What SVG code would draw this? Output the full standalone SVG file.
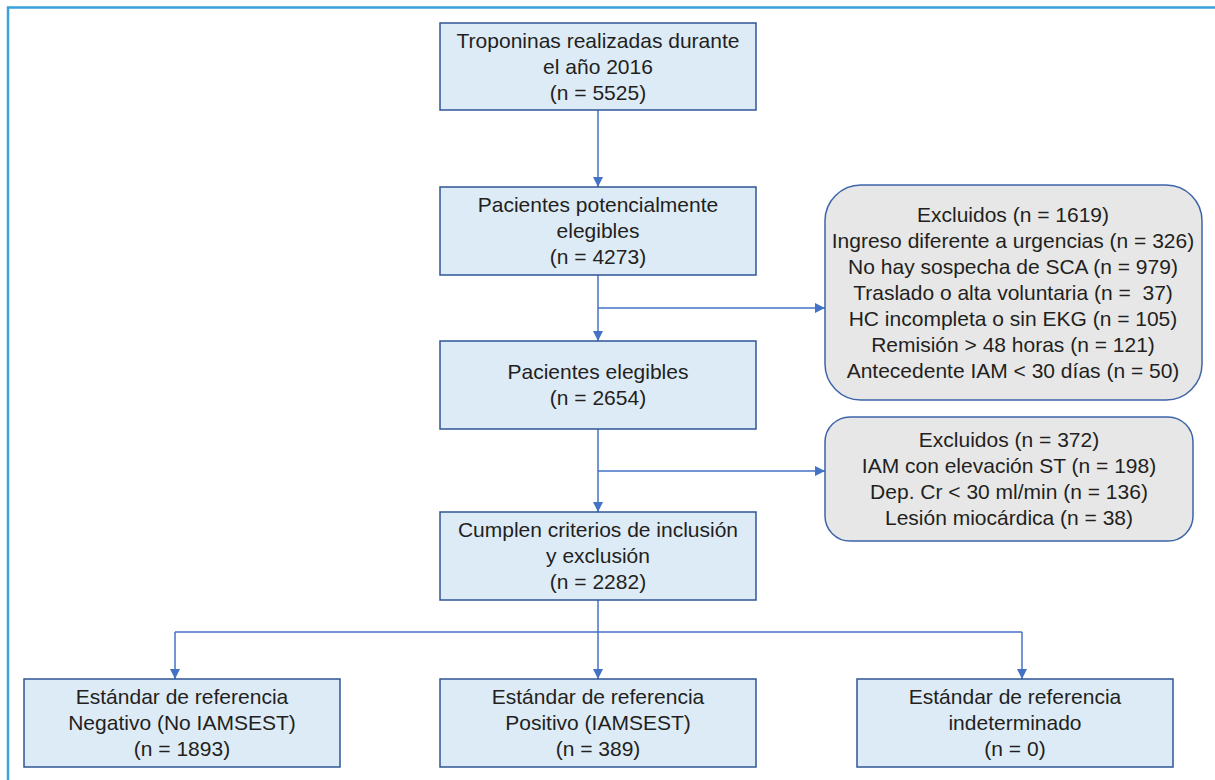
<svg xmlns="http://www.w3.org/2000/svg" width="1215" height="780" viewBox="0 0 1215 780">
<defs>
<marker id="ah" viewBox="0 0 10 10" refX="10" refY="5" markerWidth="10" markerHeight="10" markerUnits="userSpaceOnUse" orient="auto">
<path d="M0,0 L10,5 L0,10 Z" fill="#4472c4"/>
</marker>
<style>
.box{fill:#ddebf7;stroke:#2f5597;stroke-width:1.5}
.gbox{fill:#e7e7e7;stroke:#3d64a8;stroke-width:1.5}
.t{font-family:"Liberation Sans",Arial,sans-serif;font-size:21px;fill:#231f20;text-anchor:middle;white-space:pre}
.c{fill:none;stroke:#4472c4;stroke-width:1.5}
.a{marker-end:url(#ah)}
</style>
</defs>
<rect width="1215" height="780" fill="#ffffff"/>
<path d="M8,780 V7.5 H1215" fill="none" stroke="#3aa3db" stroke-width="2.5"/>
<g id="connectors">
<path class="c a" d="M598,110 V187"/>
<path class="c a" d="M598,275 V341"/>
<path class="c a" d="M598,308 H825"/>
<path class="c a" d="M598,429 V512"/>
<path class="c a" d="M598,471 H825"/>
<path class="c" d="M598,600 V632"/>
<path class="c" d="M175,632 H1022"/>
<path class="c a" d="M175,632 V679"/>
<path class="c a" d="M598,632 V679"/>
<path class="c a" d="M1022,632 V679"/>
</g>
<g id="n1">
<rect class="box" x="440" y="23" width="316" height="87"/>
<text class="t" x="598" y="48">Troponinas realizadas durante</text>
<text class="t" x="598" y="74">el año 2016</text>
<text class="t" x="598" y="100">(n = 5525)</text>
</g>
<g id="n2">
<rect class="box" x="440" y="187" width="316" height="88"/>
<text class="t" x="598" y="212">Pacientes potencialmente</text>
<text class="t" x="598" y="238">elegibles</text>
<text class="t" x="598" y="264">(n = 4273)</text>
</g>
<g id="n3">
<rect class="box" x="440" y="341" width="316" height="88"/>
<text class="t" x="598" y="379">Pacientes elegibles</text>
<text class="t" x="598" y="405">(n = 2654)</text>
</g>
<g id="n4">
<rect class="box" x="440" y="512" width="316" height="88"/>
<text class="t" x="598" y="537">Cumplen criterios de inclusión</text>
<text class="t" x="598" y="563">y exclusión</text>
<text class="t" x="598" y="589">(n = 2282)</text>
</g>
<g id="ex1">
<rect class="gbox" x="825" y="185" width="377" height="215" rx="36" ry="36"/>
<text class="t" x="1013" y="222">Excluidos (n = 1619)</text>
<text class="t" x="1013" y="248">Ingreso diferente a urgencias (n = 326)</text>
<text class="t" x="1013" y="274">No hay sospecha de SCA (n = 979)</text>
<text class="t" x="1013" y="300">Traslado o alta voluntaria (n =&#160; 37)</text>
<text class="t" x="1013" y="326">HC incompleta o sin EKG (n = 105)</text>
<text class="t" x="1013" y="352">Remisión &gt; 48 horas (n = 121)</text>
<text class="t" x="1013" y="378">Antecedente IAM &lt; 30 días (n = 50)</text>
</g>
<g id="ex2">
<rect class="gbox" x="825" y="417" width="368" height="124" rx="25" ry="25"/>
<text class="t" x="1009" y="447">Excluidos (n = 372)</text>
<text class="t" x="1009" y="473">IAM con elevación ST (n = 198)</text>
<text class="t" x="1009" y="499">Dep. Cr &lt; 30 ml/min (n = 136)</text>
<text class="t" x="1009" y="525">Lesión miocárdica (n = 38)</text>
</g>
<g id="b1">
<rect class="box" x="24" y="679" width="316" height="88"/>
<text class="t" x="182" y="704">Estándar de referencia</text>
<text class="t" x="182" y="730">Negativo (No IAMSEST)</text>
<text class="t" x="182" y="756">(n = 1893)</text>
</g>
<g id="b2">
<rect class="box" x="440" y="679" width="316" height="88"/>
<text class="t" x="598" y="704">Estándar de referencia</text>
<text class="t" x="598" y="730">Positivo (IAMSEST)</text>
<text class="t" x="598" y="756">(n = 389)</text>
</g>
<g id="b3">
<rect class="box" x="857" y="679" width="316" height="88"/>
<text class="t" x="1015" y="704">Estándar de referencia</text>
<text class="t" x="1015" y="730">indeterminado</text>
<text class="t" x="1015" y="756">(n = 0)</text>
</g>
</svg>
